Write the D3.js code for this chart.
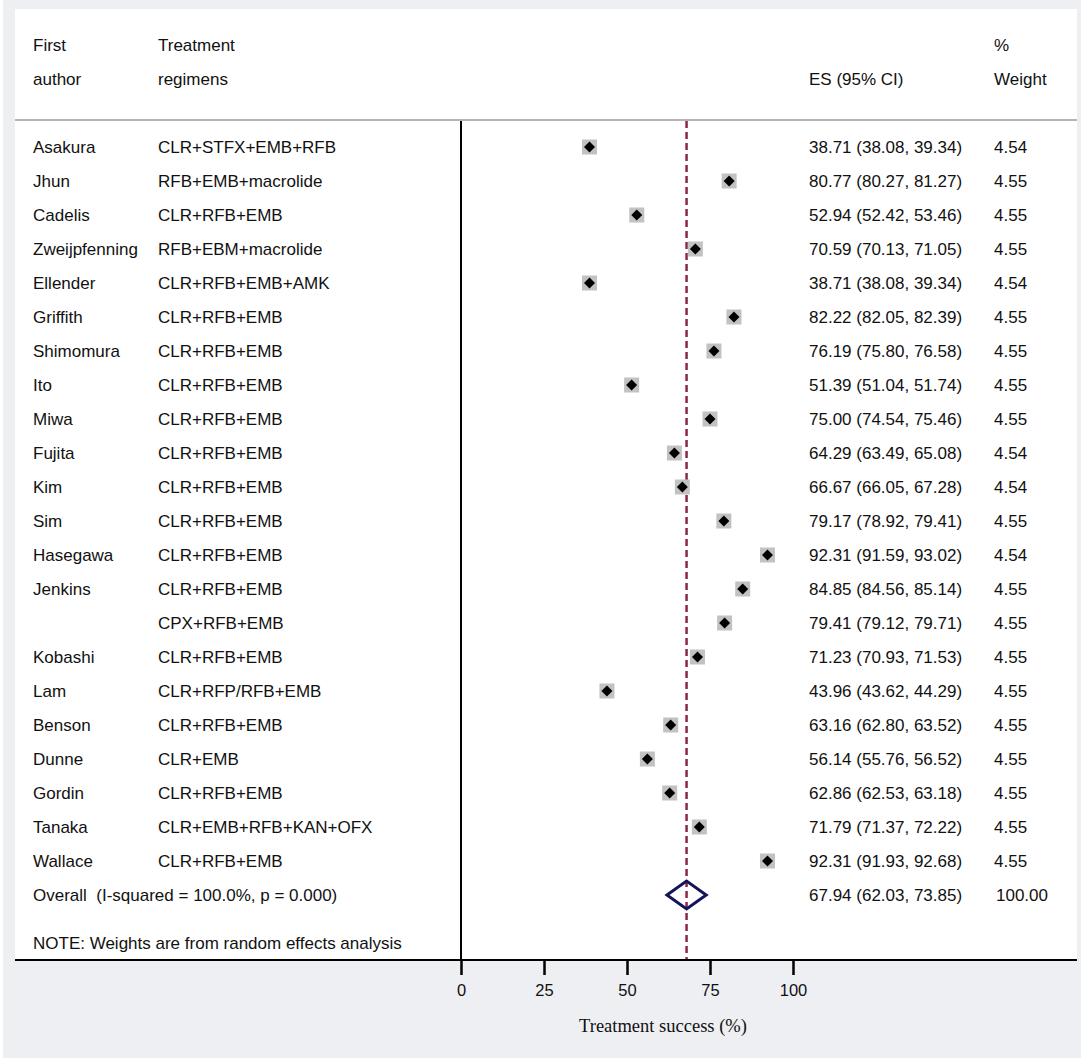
<!DOCTYPE html>
<html>
<head>
<meta charset="utf-8">
<script src="https://cdn.jsdelivr.net/npm/d3@7"></script>
<style>
  html, body { margin: 0; padding: 0; background: #fff; }
  svg { display: block; }
  .txt { font-family: "Liberation Sans", Arial, sans-serif; font-size: 17px; fill: #111; white-space: pre; }
  .tick text { font-family: "Liberation Sans", Arial, sans-serif; font-size: 16.5px; fill: #111; }
</style>
</head>
<body>
<div id="chart"></div>
<script>
// ---- data ----
const authors = ['Asakura', 'Jhun', 'Cadelis', 'Zweijpfenning', 'Ellender', 'Griffith', 'Shimomura', 'Ito', 'Miwa', 'Fujita', 'Kim',
  'Sim', 'Hasegawa', 'Jenkins', '', 'Kobashi', 'Lam', 'Benson', 'Dunne', 'Gordin', 'Tanaka', 'Wallace'];
const regimens = ['CLR+STFX+EMB+RFB', 'RFB+EMB+macrolide', 'CLR+RFB+EMB', 'RFB+EBM+macrolide', 'CLR+RFB+EMB+AMK', 'CLR+RFB+EMB',
  'CLR+RFB+EMB', 'CLR+RFB+EMB', 'CLR+RFB+EMB', 'CLR+RFB+EMB', 'CLR+RFB+EMB', 'CLR+RFB+EMB', 'CLR+RFB+EMB', 'CLR+RFB+EMB',
  'CPX+RFB+EMB', 'CLR+RFB+EMB', 'CLR+RFP/RFB+EMB', 'CLR+RFB+EMB', 'CLR+EMB', 'CLR+RFB+EMB', 'CLR+EMB+RFB+KAN+OFX', 'CLR+RFB+EMB'];
const es = [38.71, 80.77, 52.94, 70.59, 38.71, 82.22, 76.19, 51.39, 75.00, 64.29, 66.67, 79.17, 92.31, 84.85, 79.41, 71.23, 43.96,
  63.16, 56.14, 62.86, 71.79, 92.31];
const lo = [38.08, 80.27, 52.42, 70.13, 38.08, 82.05, 75.80, 51.04, 74.54, 63.49, 66.05, 78.92, 91.59, 84.56, 79.12, 70.93, 43.62,
  62.80, 55.76, 62.53, 71.37, 91.93];
const hi = [39.34, 81.27, 53.46, 71.05, 39.34, 82.39, 76.58, 51.74, 75.46, 65.08, 67.28, 79.41, 93.02, 85.14, 79.71, 71.53, 44.29,
  63.52, 56.52, 63.18, 72.22, 92.68];
const weights = [4.54, 4.55, 4.55, 4.55, 4.54, 4.55, 4.55, 4.55, 4.55, 4.54, 4.54, 4.55, 4.54, 4.55, 4.55, 4.55, 4.55, 4.55, 4.55,
  4.55, 4.55, 4.55];
const overall = { es: 67.94, lo: 62.03, hi: 73.85, weight: 100.00, label: 'Overall  (I-squared = 100.0%, p = 0.000)' };
const xTicks = [0, 25, 50, 75, 100];

// ---- layout ----
const W = 1084, H = 1063;
const panel = { x0: 15, x1: 1077, y0: 9, y1: 960 };
const headY = 120;
const col = { author: 33, regimen: 158, es: 809, weight: 994 };

const x = d3.scaleLinear().domain([0, 100]).range([461, 793]);
const y = d3.scaleLinear().domain([0, 22]).range([147, 895]);
const box = d3.scaleSqrt().domain([0, 4.55]).range([0, 15]);
const f2 = d3.format('.2f');

const svg = d3.select('#chart').append('svg').attr('width', W).attr('height', H);

// backgrounds
svg.append('rect').attr('x', 3).attr('y', 0).attr('width', 1078).attr('height', 1058).attr('fill', '#eeeff2');
svg.append('rect').attr('x', panel.x0).attr('y', panel.y0)
  .attr('width', panel.x1 - panel.x0).attr('height', panel.y1 - panel.y0).attr('fill', '#fff');

// header
[['First', col.author, 45], ['author', col.author, 79], ['Treatment', col.regimen, 45], ['regimens', col.regimen, 79],
 ['ES (95% CI)', col.es, 79], ['%', col.weight, 45], ['Weight', col.weight, 79]].forEach(([t, tx, ty]) => {
  svg.append('text').attr('class', 'txt').attr('x', tx).attr('y', ty).attr('dy', '0.36em').text(t);
});
svg.append('line').attr('x1', panel.x0).attr('x2', panel.x1).attr('y1', headY).attr('y2', headY)
  .attr('stroke', '#b4b4b4').attr('stroke-width', 2);

// zero line
svg.append('line').attr('x1', x(0)).attr('x2', x(0)).attr('y1', headY + 1).attr('y2', panel.y1)
  .attr('stroke', '#000').attr('stroke-width', 2);

// overall effect reference line
svg.append('line').attr('x1', x(overall.es)).attr('x2', x(overall.es)).attr('y1', headY + 1).attr('y2', panel.y1)
  .attr('stroke', '#8b2846').attr('stroke-width', 2.5).attr('stroke-dasharray', '7,4');

// study rows
const rows = es.map((v, i) => ({ i, author: authors[i], regimen: regimens[i], es: v, lo: lo[i], hi: hi[i], w: weights[i] }));
const row = svg.append('g').selectAll('g.row').data(rows).join('g').attr('class', 'row');

row.append('text').attr('class', 'txt').attr('x', col.author).attr('y', d => y(d.i)).attr('dy', '0.36em').text(d => d.author);
row.append('text').attr('class', 'txt').attr('x', col.regimen).attr('y', d => y(d.i)).attr('dy', '0.36em').text(d => d.regimen);
row.append('text').attr('class', 'txt').attr('x', col.es).attr('y', d => y(d.i)).attr('dy', '0.36em')
  .text(d => `${f2(d.es)} (${f2(d.lo)}, ${f2(d.hi)})`);
row.append('text').attr('class', 'txt').attr('x', col.weight).attr('y', d => y(d.i)).attr('dy', '0.36em').text(d => f2(d.w));

row.append('rect')
  .attr('x', d => x(d.es) - box(d.w) / 2).attr('y', d => y(d.i) - box(d.w) / 2)
  .attr('width', d => box(d.w)).attr('height', d => box(d.w)).attr('fill', '#c2c2c2');
row.append('line').attr('x1', d => x(d.lo)).attr('x2', d => x(d.hi)).attr('y1', d => y(d.i)).attr('y2', d => y(d.i))
  .attr('stroke', '#000').attr('stroke-width', 1.2);
row.append('path')
  .attr('d', d => {
    const cx = x(d.es), cy = y(d.i), r = 5.5;
    return `M${cx - r},${cy}L${cx},${cy - r}L${cx + r},${cy}L${cx},${cy + r}Z`;
  })
  .attr('fill', '#000');

// overall row
const oy = y(22);
svg.append('text').attr('class', 'txt').attr('x', col.author).attr('y', oy).attr('dy', '0.36em').text(overall.label);
svg.append('text').attr('class', 'txt').attr('x', col.es).attr('y', oy).attr('dy', '0.36em')
  .text(`${f2(overall.es)} (${f2(overall.lo)}, ${f2(overall.hi)})`);
svg.append('text').attr('class', 'txt').attr('x', col.weight + 2).attr('y', oy).attr('dy', '0.36em').text(f2(overall.weight));
svg.append('path')
  .attr('d', `M${x(overall.lo)},${oy}L${x(overall.es)},${oy - 14}L${x(overall.hi)},${oy}L${x(overall.es)},${oy + 14}Z`)
  .attr('fill', 'none').attr('stroke', '#14145a').attr('stroke-width', 3).attr('stroke-linejoin', 'miter');

// note
svg.append('text').attr('class', 'txt').attr('x', col.author).attr('y', 943).attr('dy', '0.36em')
  .text('NOTE: Weights are from random effects analysis');

// axis
svg.append('line').attr('x1', panel.x0).attr('x2', panel.x1).attr('y1', panel.y1).attr('y2', panel.y1)
  .attr('stroke', '#000').attr('stroke-width', 2);
const ax = svg.append('g').attr('transform', `translate(0,${panel.y1})`)
  .call(d3.axisBottom(x).tickValues(xTicks).tickSize(15).tickPadding(9).tickFormat(d3.format('d')));
ax.select('.domain').remove();
ax.selectAll('.tick line').attr('stroke', '#000').attr('stroke-width', 2.5);

svg.append('text').attr('x', (x(0) + x(100)) / 2 + 36).attr('y', 1032)
  .attr('text-anchor', 'middle')
  .style('font-family', '"Liberation Serif", "Times New Roman", serif').style('font-size', '18.5px').style('fill', '#111')
  .text('Treatment success (%)');
</script>
</body>
</html>
